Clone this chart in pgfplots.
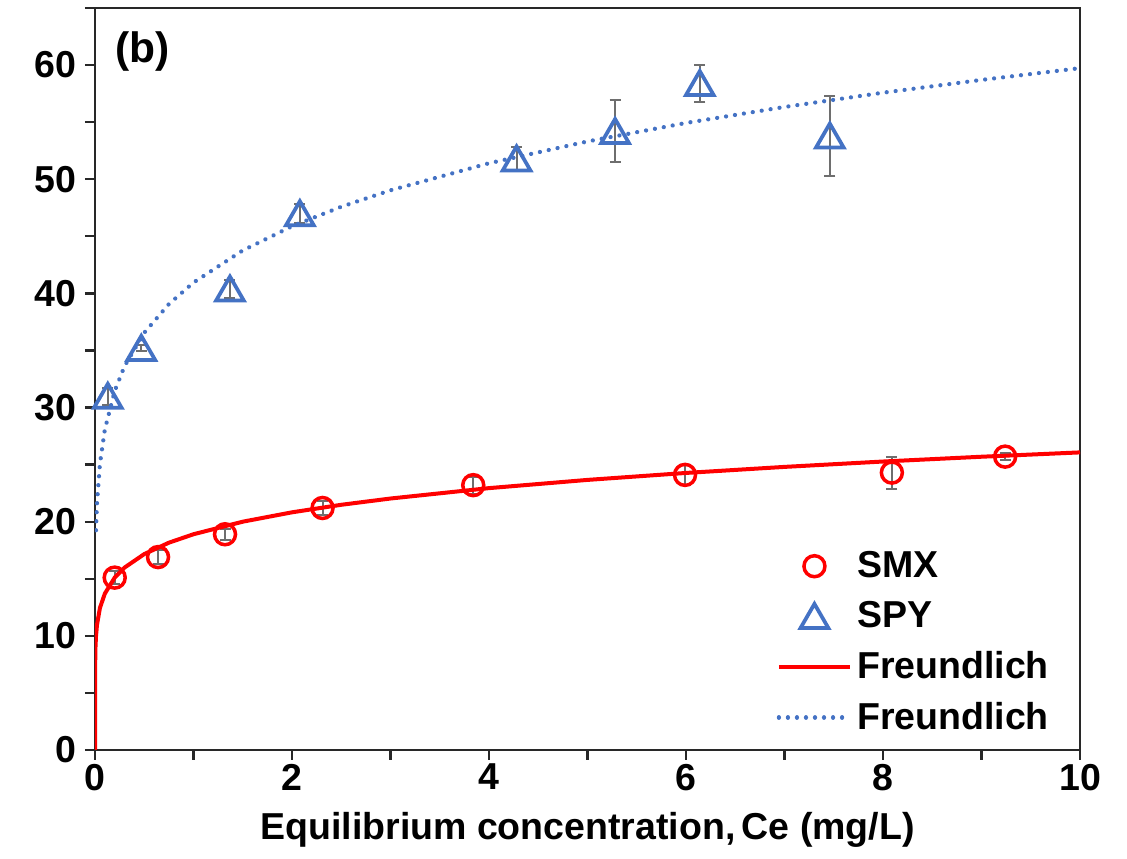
\documentclass[border=0pt]{standalone}
\usepackage{pgfplots}
\pgfplotsset{compat=1.18}
\usepackage{pgfplotstable}
\usepackage{fontspec}
\setmainfont{Liberation Sans}
\definecolor{exblue}{RGB}{68,114,196}
\definecolor{errgray}{RGB}{110,110,110}
\definecolor{axgray}{RGB}{40,40,40}

\pgfplotstableread{
x y e
0.20 15.1 0.6
0.64 16.9 0.6
1.32 18.9 0.5
2.31 21.2 0.65
3.84 23.2 0.75
5.99 24.1 0.9
8.09 24.3 1.4
9.24 25.7 0.3
}\smx

\pgfplotstableread{
x y e
0.13 31.0 0.75
0.47 35.2 0.25
1.37 40.4 0.8
2.08 47.0 0.8
4.28 51.8 1.0
5.28 54.2 2.7
6.14 58.4 1.6
7.46 53.8 3.5
}\spy

\pgfplotstableread{
x y
0 0
0.001 7.20
0.005 9.02
0.01 9.94
0.02 10.95
0.05 12.44
0.1 13.70
0.2 15.10
0.3 15.98
0.5 17.16
0.75 18.16
1 18.90
1.5 20.00
2 20.82
2.5 21.48
3 22.03
4 22.94
5 23.66
6 24.27
7 24.80
8 25.27
9 25.69
10 26.07
}\fitsmx

\pgfplotstableread{
x y
0.01 19.25
0.02 21.57
0.05 25.06
0.1 28.08
0.2 31.45
0.3 33.62
0.5 36.55
0.75 39.06
1 40.95
1.5 43.76
2 45.88
2.5 47.59
3 49.03
4 51.40
5 53.31
6 54.93
7 56.33
8 57.58
9 58.70
10 59.73
}\fitspy

\begin{document}
\begin{tikzpicture}
\begin{axis}[
  name=ax,
  scale only axis,
  width=394pt, height=296.8pt,
  xmin=0, xmax=10, ymin=0, ymax=65,
  xtick={0,2,...,10}, ytick={0,10,...,60},
  minor xtick={1,3,...,9}, minor ytick={5,15,...,65},
  tick align=outside, xtick pos=bottom, ytick pos=left,
  major tick length=4pt, minor tick length=4pt,
  tick style={axgray, line width=0.9pt},
  axis line style={axgray, line width=1pt},
  /pgf/number format/assume math mode=true,
  ticklabel style={font=\fontsize{15}{18}\selectfont\bfseries},
  xticklabel style={yshift=2pt},
  xlabel={Equilibrium concentration,\,Ce (mg/L)},
  xlabel style={font=\fontsize{15}{18}\selectfont\bfseries, yshift=-2pt},
  legend cell align=left,
  legend style={at={(0.684,0.282)}, anchor=north west, draw=none, fill=none,
    font=\fontsize{15}{18}\selectfont\bfseries, row sep=4pt,
    /tikz/every even column/.append style={column sep=2pt}},
  legend image code/.code={\draw[mark repeat=2,mark phase=2,#1] plot coordinates {(0cm,0cm) (0.5cm,0cm) (1cm,0cm)};},
]
\addplot[only marks, mark=o, mark size=4.2pt, red, mark options={line width=1.4pt, fill=none},
  error bars/.cd, y dir=both, y explicit,
  error bar style={errgray, line width=0.8pt},
  error mark options={rotate=90, mark size=2.2pt, errgray, line width=0.8pt}]
  table[x=x, y=y, y error=e] {\smx};
\addlegendentry{SMX}
\addplot[only marks, mark=triangle, mark size=6.4pt, exblue, mark options={line width=1.5pt, fill=none, yshift=-1.5pt},
  error bars/.cd, y dir=both, y explicit,
  error bar style={errgray, line width=0.8pt},
  error mark options={rotate=90, mark size=2.2pt, errgray, line width=0.8pt}]
  table[x=x, y=y, y error=e] {\spy};
\addlegendentry{SPY}
\addplot[no marks, red, line width=1.6pt] table[x=x, y=y] {\fitsmx};
\addlegendentry{Freundlich}
\addplot[no marks, exblue, line width=1.7pt, line cap=round, dash pattern=on 0.01pt off 3.6pt] table[x=x, y=y] {\fitspy};
\addlegendentry{Freundlich}
\node[font=\fontsize{17}{20}\selectfont\bfseries] at (rel axis cs:0.048,0.941) {(b)};
\end{axis}
\pgfresetboundingbox
\path ([xshift=-38pt,yshift=-43.6pt]ax.south west) rectangle ([xshift=18.8pt,yshift=3.2pt]ax.north east);
\end{tikzpicture}
\end{document}
